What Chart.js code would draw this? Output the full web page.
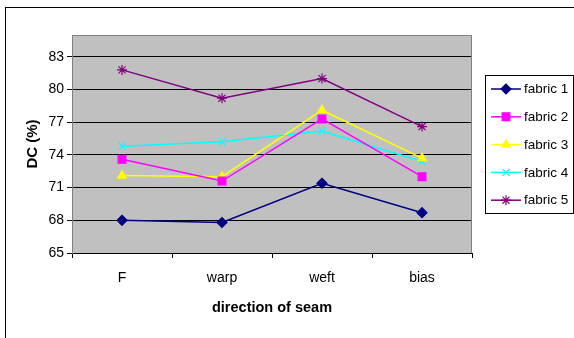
<!DOCTYPE html>
<html>
<head>
<meta charset="utf-8">
<script src="https://cdn.jsdelivr.net/npm/chart.js@4.4.1/dist/chart.umd.min.js"></script>
<style>
html,body{margin:0;padding:0;background:#fff;}
#wrap{position:relative;width:574px;height:338px;}
</style>
</head>
<body>
<div id="wrap"><canvas id="c" width="574" height="338"></canvas></div>
<script>
const categories = ['F', 'warp', 'weft', 'bias'];
const fabric1 = [68.0, 67.8, 71.4, 68.7];
const fabric2 = [73.6, 71.6, 77.3, 72.0];
const fabric3 = [72.1, 72.0, 78.1, 73.7];
const fabric4 = [74.8, 75.2, 76.2, 73.4];
const fabric5 = [81.8, 79.2, 81.0, 76.6];
const seriesNames = ['fabric 1', 'fabric 2', 'fabric 3', 'fabric 4', 'fabric 5'];
const yTickValues = [65, 68, 71, 74, 77, 80, 83];
const yMin = 65, yMax = 85;

const FONT = 'Liberation Sans, Arial, sans-serif';
const colors = ['#000080', '#FF00FF', '#FFFF00', '#00FFFF', '#800080'];
const styles = ['rectRot', 'rect', 'triangle', 'crossRot', 'star'];
const radii = [5, 5.5, 5, 5, 5];
const series = [fabric1, fabric2, fabric3, fabric4, fabric5];

const datasets = series.map((d, i) => ({
  label: seriesNames[i],
  data: d,
  borderColor: colors[i],
  backgroundColor: colors[i],
  borderWidth: 1.5,
  pointStyle: styles[i],
  pointRadius: radii[i],
  pointBorderColor: colors[i],
  pointBackgroundColor: colors[i],
  pointBorderWidth: 1.2,
  tension: 0
}));

const decor = {
  id: 'decor',
  beforeDraw(chart) {
    const ctx = chart.ctx, a = chart.chartArea;
    ctx.save();
    ctx.fillStyle = '#ffffff';
    ctx.fillRect(0, 0, chart.width, chart.height);
    ctx.strokeStyle = '#000';
    ctx.lineWidth = 1;
    ctx.strokeRect(5.5, 7.5, 700, 500);
    ctx.fillStyle = '#C0C0C0';
    ctx.fillRect(a.left, a.top, a.right - a.left, a.bottom - a.top);
    ctx.restore();
  },
  beforeDatasetsDraw(chart) {
    const ctx = chart.ctx, a = chart.chartArea;
    ctx.save();
    ctx.strokeStyle = '#808080';
    ctx.lineWidth = 1;
    ctx.beginPath();
    ctx.moveTo(a.left + 0.5, a.bottom);
    ctx.lineTo(a.left + 0.5, a.top + 0.5);
    ctx.lineTo(a.right - 0.5, a.top + 0.5);
    ctx.lineTo(a.right - 0.5, a.bottom);
    ctx.stroke();
    ctx.restore();
  },
  afterDraw(chart) {
    const ctx = chart.ctx;
    ctx.save();
    const bx = 485.5, by = 75.5, bw = 88, bh = 138;
    ctx.fillStyle = '#fff';
    ctx.fillRect(bx, by, bw, bh);
    ctx.strokeStyle = '#000';
    ctx.lineWidth = 1;
    ctx.strokeRect(bx, by, bw, bh);
    chart.data.datasets.forEach((ds, i) => {
      const y = 89 + i * 27.8;
      ctx.strokeStyle = ds.borderColor;
      ctx.fillStyle = ds.borderColor;
      ctx.lineWidth = 1.5;
      ctx.beginPath();
      ctx.moveTo(491, y);
      ctx.lineTo(521, y);
      ctx.stroke();
      ctx.lineWidth = 1.2;
      Chart.helpers.drawPoint(ctx, {
        pointStyle: ds.pointStyle, radius: ds.pointRadius, rotation: 0, borderWidth: 1.2
      }, 506, y);
      ctx.fillStyle = '#000';
      ctx.font = '13.5px ' + FONT;
      ctx.textBaseline = 'middle';
      ctx.textAlign = 'left';
      ctx.fillText(ds.label, 524, y + 0.5);
    });
    ctx.restore();
  }
};

new Chart(document.getElementById('c'), {
  type: 'line',
  data: { labels: categories, datasets: datasets },
  plugins: [decor],
  options: {
    responsive: false,
    animation: false,
    layout: { padding: { top: 35, right: 102, left: 0, bottom: 0 } },
    plugins: { legend: { display: false }, tooltip: { enabled: false } },
    scales: {
      x: {
        type: 'category',
        offset: true,
        afterFit(s) { s.height = 85; },
        grid: { display: true, drawOnChartArea: false, offset: true, tickLength: 5, color: '#000', lineWidth: 1 },
        border: { display: true, color: '#000', width: 1 },
        ticks: { color: '#000', font: { family: FONT, size: 14 }, padding: 12, maxRotation: 0 },
        title: { display: true, text: 'direction of seam', color: '#000', font: { family: FONT, size: 14.5, weight: 'bold' }, padding: { top: 0, bottom: 21 } }
      },
      y: {
        min: yMin, max: yMax,
        afterFit(s) { s.width = 72; },
        afterBuildTicks(s) { s.ticks = yTickValues.map(v => ({ value: v })); },
        grid: { color: '#000', lineWidth: 1, tickLength: 5, drawTicks: true },
        border: { display: true, color: '#808080', width: 1 },
        ticks: { color: '#000', font: { family: FONT, size: 14 }, padding: 3 },
        title: { display: true, text: 'DC (%)', color: '#000', font: { family: FONT, size: 15, weight: 'bold' }, padding: { top: 24, bottom: 0 } }
      }
    }
  }
});
</script>
</body>
</html>
